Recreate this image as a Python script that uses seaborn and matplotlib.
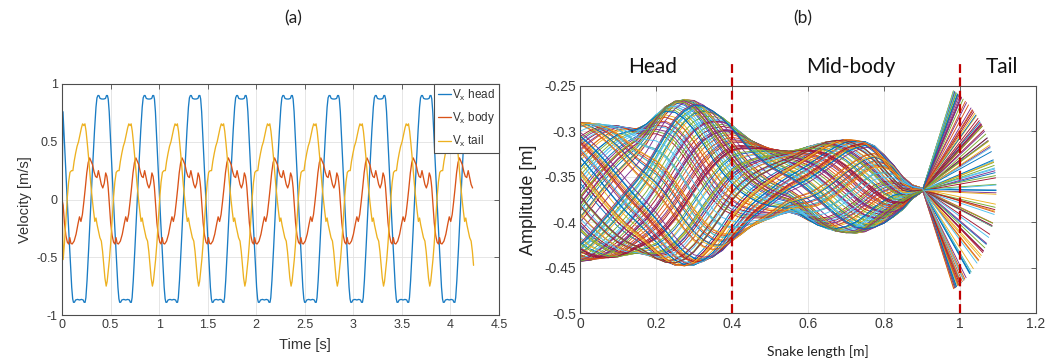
import numpy as np
import pandas as pd
import matplotlib
matplotlib.use("Agg")
import matplotlib.pyplot as plt
import seaborn as sns

# ---------------- data: panel (a) ----------------
period = 0.476          # s, one stroke cycle (read from plateau spacing)
t_end = 4.24            # s, last sample

head_tau = [0.000, 0.010, 0.025, 0.045, 0.065, 0.085, 0.100, 0.110, 0.118, 0.128, 0.140,
            0.160, 0.180, 0.200, 0.218, 0.228, 0.238, 0.246, 0.258, 0.275, 0.295, 0.315,
            0.335, 0.350, 0.360, 0.370, 0.380, 0.392, 0.410, 0.430, 0.448, 0.458, 0.468]
head_v = [0.87, 0.76, 0.50, 0.15, -0.20, -0.52, -0.76, -0.86, -0.89, -0.89, -0.87,
          -0.865, -0.87, -0.865, -0.87, -0.89, -0.89, -0.85, -0.70, -0.42, -0.07, 0.28,
          0.60, 0.80, 0.88, 0.90, 0.90, 0.875, 0.87, 0.87, 0.875, 0.90, 0.90]

body_tau = [0.000, 0.012, 0.025, 0.040, 0.055, 0.068, 0.080, 0.092, 0.105, 0.125, 0.145,
            0.165, 0.180, 0.195, 0.210, 0.225, 0.240, 0.255, 0.270, 0.285, 0.300, 0.315,
            0.330, 0.345, 0.360, 0.375, 0.390, 0.405, 0.420, 0.435, 0.450, 0.462, 0.470]
body_v = [0.10, -0.05, -0.20, -0.31, -0.37, -0.385, -0.33, -0.38, -0.385, -0.36, -0.30,
          -0.21, -0.15, -0.19, -0.13, -0.02, 0.10, 0.23, 0.32, 0.36, 0.33, 0.30,
          0.24, 0.20, 0.19, 0.25, 0.19, 0.13, 0.10, 0.14, 0.23, 0.20, 0.15]

tail_tau = [0.000, 0.012, 0.025, 0.040, 0.055, 0.068, 0.082, 0.098, 0.112, 0.125, 0.140,
            0.155, 0.170, 0.185, 0.200, 0.212, 0.225, 0.236, 0.248, 0.260, 0.272, 0.285,
            0.298, 0.312, 0.325, 0.338, 0.350, 0.362, 0.375, 0.390, 0.405, 0.418, 0.430,
            0.442, 0.455, 0.465]
tail_v = [-0.62, -0.52, -0.38, -0.18, 0.02, 0.15, 0.235, 0.25, 0.25, 0.33, 0.40,
          0.46, 0.50, 0.56, 0.62, 0.655, 0.64, 0.655, 0.59, 0.49, 0.38, 0.25,
          0.12, 0.00, -0.10, -0.19, -0.16, -0.22, -0.27, -0.33, -0.36, -0.45, -0.57,
          -0.68, -0.75, -0.71]

start_t = [0.0]
head_start = [0.0]
body_start = [0.0]
tail_start = [0.0]

series_labels = ["V$_x$ head", "V$_x$ body", "V$_x$ tail"]
a_xticks = [0, 0.5, 1, 1.5, 2, 2.5, 3, 3.5, 4, 4.5]
a_xticklabels = ["0", "0.5", "1", "1.5", "2", "2.5", "3", "3.5", "4", "4.5"]
a_yticks = [-1, -0.5, 0, 0.5, 1]
a_yticklabels = ["-1", "-0.5", "0", "0.5", "1"]

# ---------------- data: panel (b) ----------------
body_x = np.round(np.arange(0, 0.9001, 0.025), 3)
env_upper = [-0.290, -0.291, -0.292, -0.293, -0.294, -0.296, -0.297, -0.292, -0.282, -0.273,
             -0.267, -0.265, -0.266, -0.271, -0.278, -0.285, -0.293, -0.302, -0.310, -0.315,
             -0.319, -0.321, -0.322, -0.320, -0.317, -0.314, -0.3115, -0.310, -0.309, -0.310,
             -0.3115, -0.316, -0.326, -0.337, -0.350, -0.359, -0.3625]
env_lower = [-0.443, -0.442, -0.440, -0.439, -0.438, -0.436, -0.434, -0.436, -0.440, -0.444,
             -0.447, -0.448, -0.447, -0.443, -0.438, -0.431, -0.421, -0.413, -0.405, -0.400,
             -0.396, -0.392, -0.389, -0.392, -0.3976, -0.403, -0.407, -0.410, -0.4115, -0.412,
             -0.4105, -0.406, -0.401, -0.394, -0.386, -0.374, -0.3665]
body_wavelength = 0.9         # m, spacing of the crests along the body
n_snapshots = 125
snapshot_step = 0.3819        # cycle fraction advanced per snapshot (grows over the run)
snapshot_drift = 0.137
tail_reach = 0.195            # m, tail tip distance ahead of the pivot when straight
tail_sweep = 0.12             # m, lateral reach of the tail tip
tail_max_angle = np.deg2rad(65)
tail_u = [0.25, 0.5, 0.75, 1.0]

section_bounds = [0.4, 1.0]
section_names = ["Head", "Mid-body", "Tail"]
section_centers = [0.19, 0.713, 1.11]
b_xticks = [0, 0.2, 0.4, 0.6, 0.8, 1.0, 1.2]
b_xticklabels = ["0", "0.2", "0.4", "0.6", "0.8", "1", "1.2"]
b_yticks = [-0.5, -0.45, -0.4, -0.35, -0.3, -0.25]
b_yticklabels = ["-0.5", "-0.45", "-0.4", "-0.35", "-0.3", "-0.25"]

matlab_colors = ["#0072BD", "#D95319", "#EDB120", "#7E2F8E", "#77AC30", "#4DBEEE", "#A2142F"]
a_colors = ["#1a7cc4", "#D95319", "#EDB120"]

# ---------------- build frames ----------------
def tile_cycle(tau, v, s_t, s_v, cutoff):
    ts, vs = list(s_t), list(s_v)
    k = 0
    while k * period < t_end:
        for a, b in zip(tau, v):
            if k == 0 and a < cutoff:
                continue
            t = k * period + a
            if t > t_end:
                break
            ts.append(t)
            vs.append(b)
        k += 1
    return ts, vs

rows = []
for lab, tau, v, sv in [(series_labels[0], head_tau, head_v, head_start),
                        (series_labels[1], body_tau, body_v, body_start),
                        (series_labels[2], tail_tau, tail_v, tail_start)]:
    ts, vs = tile_cycle(tau, v, start_t, sv, 0.005)
    for t, val in zip(ts, vs):
        rows.append((lab, t, val))
df_a = pd.DataFrame(rows, columns=["series", "time", "vel"])

up = np.array(env_upper)
lo = np.array(env_lower)
center = (up + lo) / 2
amp = (up - lo) / 2
lag = 2 * np.pi * body_x / body_wavelength
tail_lag = 2 * np.pi * 0.85 / body_wavelength
pivot_y = center[-1]

brows = []
for k in range(n_snapshots):
    ph = 2 * np.pi * ((k * k * snapshot_step + k * snapshot_drift) % 1.0)
    yb = center + amp * np.cos(ph - lag)
    name = f"s{k:03d}"
    for i, (xx, yy) in enumerate(zip(body_x, yb)):
        brows.append((name, i, xx, yy))
    psi = -tail_max_angle * np.cos(ph - tail_lag)
    ex = body_x[-1] + tail_reach * np.cos(psi)
    ey = pivot_y + tail_sweep * np.sin(psi)
    x0, y0 = body_x[-1], yb[-1]
    for j, u in enumerate(tail_u):
        brows.append((name, len(body_x) + j, x0 + u * (ex - x0), y0 + u * (ey - y0)))
df_b = pd.DataFrame(brows, columns=["snap", "order", "x", "y"])
snap_palette = {f"s{k:03d}": matlab_colors[k % 7] for k in range(n_snapshots)}

# ---------------- style ----------------
sns.set_theme(style="white")
plt.rcParams["font.family"] = ["Liberation Sans", "DejaVu Sans"]
plt.rcParams["axes.unicode_minus"] = False
plt.rcParams["mathtext.default"] = "regular"

W, H = 1058, 362
fig = plt.figure(figsize=(W / 100, H / 100), dpi=100)
fig.patch.set_facecolor("white")

spine_c = "#4d4d4d"
tick_c = "#3a3a3a"
grid_c = "#e2e2e2"

ax_a = fig.add_axes([62 / W, 1 - 315 / H, (499 - 62) / W, (315 - 84) / H])
ax_b = fig.add_axes([580 / W, 1 - 313.3 / H, (1036 - 580) / W, (313.3 - 85.7) / H])

for ax in (ax_a, ax_b):
    ax.set_facecolor("white")
    ax.grid(True, color=grid_c, lw=0.6)
    ax.set_axisbelow(True)
    for s in ax.spines.values():
        s.set_color(spine_c)
        s.set_linewidth(0.8)
    ax.tick_params(direction="in", length=3.5, width=0.6, colors=spine_c,
                   top=True, right=True, labelcolor=tick_c, pad=3)

# panel (a)
a_pal = dict(zip(series_labels, a_colors))
sns.lineplot(data=df_a, x="time", y="vel", hue="series", palette=a_pal,
             estimator=None, sort=False, linewidth=0.95, ax=ax_a, legend=False)
ax_a.set_xlim(0, 4.5)
ax_a.set_ylim(-1, 1)
ax_a.set_xticks(a_xticks)
ax_a.set_xticklabels(a_xticklabels, fontsize=9)
ax_a.set_yticks(a_yticks)
ax_a.set_yticklabels(a_yticklabels, fontsize=9)
ax_a.set_xlabel("Time [s]", fontsize=10.5, color="#333333")
ax_a.set_ylabel("Velocity [m/s]", fontsize=10.5, color="#333333")
ax_a.xaxis.set_label_coords(0.555, -0.13)
ax_a.yaxis.set_label_coords(-0.085, 0.5)
ax_a.xaxis.label.set_va("center")
ax_a.yaxis.label.set_va("center")
handles = [plt.Line2D([], [], color=a_pal[l], lw=0.95) for l in series_labels]
leg = ax_a.legend(handles, series_labels, loc="upper right", borderaxespad=0,
                  frameon=True, fancybox=False, framealpha=1, edgecolor=spine_c,
                  fontsize=8.5, handlelength=1.1, handletextpad=0.15,
                  labelspacing=0.65, borderpad=0.3)
leg.get_frame().set_linewidth(0.8)
for txt in leg.get_texts():
    txt.set_color("#333333")
fig.text(293 / W, 1 - 18 / H, "(a)", ha="center", va="center", fontsize=12.5,
         family=["Lato", "DejaVu Sans"], color="#222222")

# panel (b)
sns.lineplot(data=df_b, x="x", y="y", hue="snap", palette=snap_palette,
             estimator=None, sort=False, linewidth=0.65, ax=ax_b, legend=False)
ax_b.set_xlim(0, 1.2)
ax_b.set_ylim(-0.5, -0.25)
ax_b.set_xticks(b_xticks)
ax_b.set_xticklabels(b_xticklabels, fontsize=10)
ax_b.set_yticks(b_yticks)
ax_b.set_yticklabels(b_yticklabels, fontsize=10)
ax_b.set_ylabel("Amplitude [m]", fontsize=13, color="#222222")
ax_b.yaxis.set_label_coords(-0.114, 0.5)
ax_b.yaxis.label.set_va("center")
ax_b.set_xlabel("Snake length [m]", fontsize=10, color="#222222",
                family=["Lato", "DejaVu Sans"])
ax_b.xaxis.set_label_coords(0.522, -0.17)
ax_b.xaxis.label.set_va("center")
for xb in section_bounds:
    ax_b.plot([xb, xb], [-0.5, -0.225], color="#C00000", lw=1.6,
              dashes=(4, 2), clip_on=False, zorder=5)
for nm, xc in zip(section_names, section_centers):
    ax_b.text(xc, -0.2364, nm, ha="center", va="baseline", fontsize=15,
              family=["Lato", "DejaVu Sans"], color="#111111", clip_on=False)
fig.text(803 / W, 1 - 18 / H, "(b)", ha="center", va="center", fontsize=12.5,
         family=["Lato", "DejaVu Sans"], color="#222222")

fig.savefig("out.png", dpi=100, facecolor="white")
